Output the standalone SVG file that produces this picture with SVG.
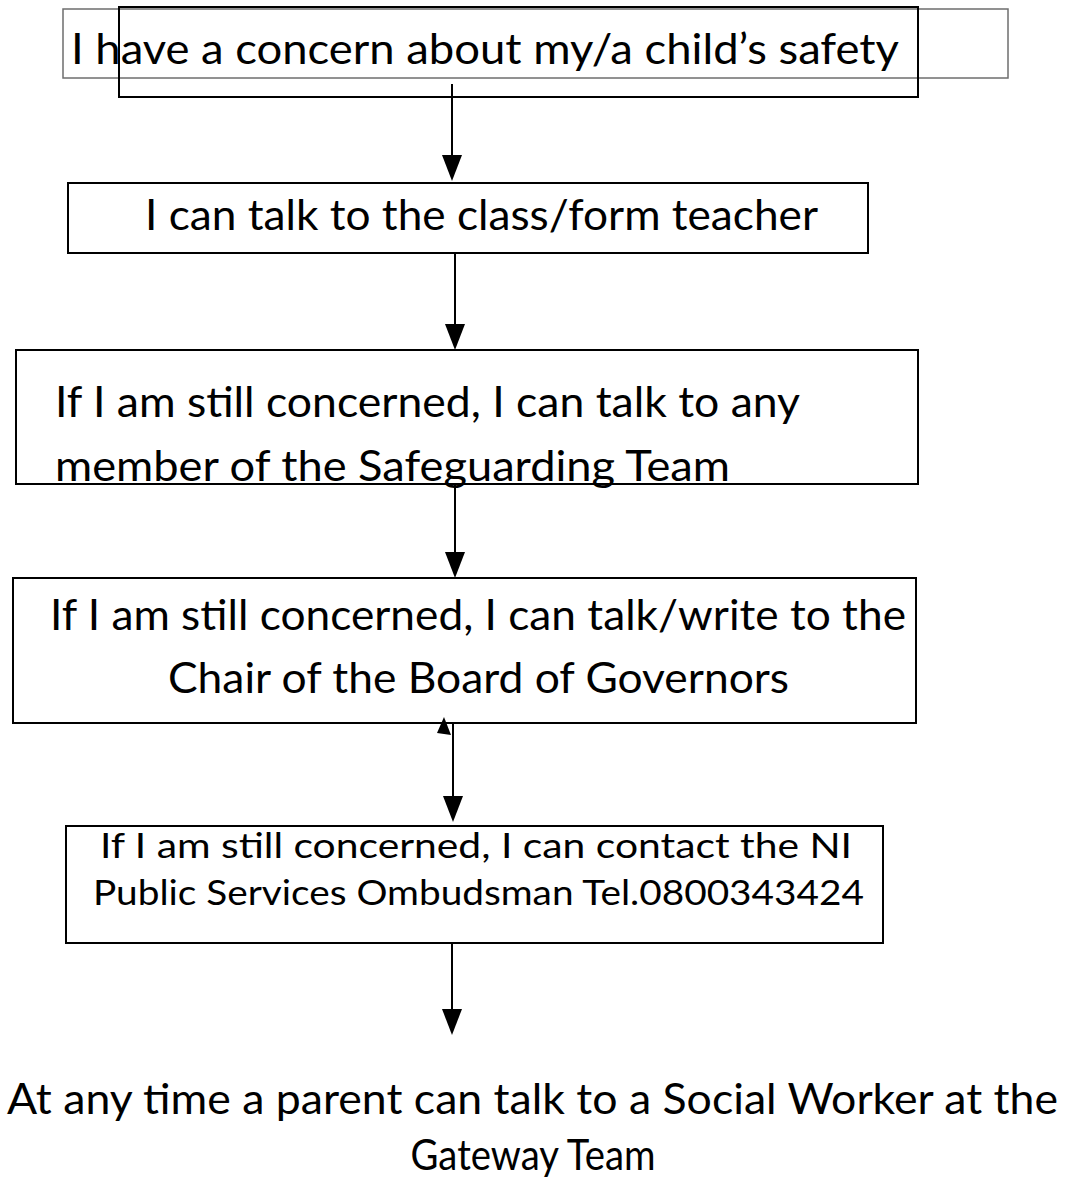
<svg xmlns="http://www.w3.org/2000/svg" width="1066" height="1186" viewBox="0 0 1066 1186">
<style>
  .box { fill: none; stroke: #000; stroke-width: 2; }
  .outer { fill: none; stroke: #6e6e6e; stroke-width: 1.5; }
  .t { font-family: Lato, "Open Sans", "Liberation Sans", sans-serif; fill: #000; font-size: 43px; }
  .s { font-size: 35px; }
  .conn line { stroke: #000; stroke-width: 2; }
  .conn polygon { fill: #000; }
</style>
<rect width="1066" height="1186" fill="#fff"/>
<g id="node1">
  <rect class="outer" x="63" y="9" width="945" height="69"/>
  <rect class="box" x="119" y="7" width="799" height="90"/>
  <text class="t" x="71" y="64" font-size="44" textLength="828" lengthAdjust="spacingAndGlyphs">I have a concern about my/a child’s safety</text>
</g>
<g id="node2">
  <rect class="box" x="68" y="183" width="800" height="70"/>
  <text class="t" x="145" y="230" textLength="673" lengthAdjust="spacingAndGlyphs">I can talk to the class/form teacher</text>
</g>
<g id="node3">
  <rect class="box" x="16" y="350" width="902" height="134"/>
  <text class="t" x="55" y="417" textLength="745" lengthAdjust="spacingAndGlyphs">If I am still concerned, I can talk to any</text>
  <text class="t" x="55" y="481" textLength="675" lengthAdjust="spacingAndGlyphs">member of the Safeguarding Team</text>
</g>
<g id="node4">
  <rect class="box" x="13" y="578" width="903" height="145"/>
  <text class="t" x="50" y="630" textLength="856" lengthAdjust="spacingAndGlyphs">If I am still concerned, I can talk/write to the</text>
  <text class="t" x="168" y="693" textLength="621" lengthAdjust="spacingAndGlyphs">Chair of the Board of Governors</text>
</g>
<g id="node5">
  <rect class="box" x="66" y="826" width="817" height="117"/>
  <text class="t s" x="100" y="858" textLength="752" lengthAdjust="spacingAndGlyphs">If I am still concerned, I can contact the NI</text>
  <text class="t s" x="93" y="905" textLength="771" lengthAdjust="spacingAndGlyphs">Public Services Ombudsman Tel.0800343424</text>
</g>
<g id="node6">
  <text class="t" x="7" y="1114" textLength="1051" lengthAdjust="spacingAndGlyphs">At any time a parent can talk to a Social Worker at the</text>
  <text class="t" x="533" y="1170" font-size="42" text-anchor="middle" textLength="245" lengthAdjust="spacingAndGlyphs">Gateway Team</text>
</g>
<g id="connectors" class="conn">
  <line x1="452" y1="84" x2="452" y2="156"/>
  <polygon points="442,155 462,155 452,181"/>
  <line x1="455" y1="253" x2="455" y2="325"/>
  <polygon points="445,324 465,324 455,350"/>
  <line x1="455" y1="484" x2="455" y2="553"/>
  <polygon points="445,552 465,552 455,578"/>
  <polygon points="444,717 437,733 451,735"/>
  <line x1="453" y1="723" x2="453" y2="797"/>
  <polygon points="443,796 463,796 453,822"/>
  <line x1="452" y1="943" x2="452" y2="1010"/>
  <polygon points="442,1009 462,1009 452,1035"/>
</g>
</svg>
